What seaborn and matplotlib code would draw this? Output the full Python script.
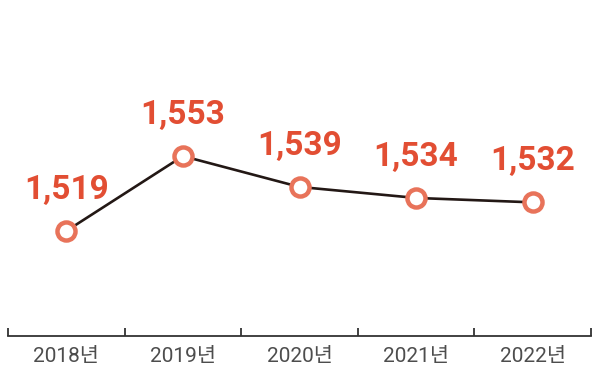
import matplotlib
matplotlib.use("Agg")
import matplotlib.pyplot as plt
import seaborn as sns
import pandas as pd

years = ["2018년", "2019년", "2020년", "2021년", "2022년"]
values = [1519, 1553, 1539, 1534, 1532]

sns.set_theme(style="white")
plt.rcParams['font.family'] = ['Roboto', 'Noto Sans CJK KR', 'DejaVu Sans']

df = pd.DataFrame({"x": range(len(years)), "v": values})

fig = plt.figure(figsize=(6, 3.7), dpi=100)
ax = fig.add_axes([8/600, 1 - 336/370, (591-8)/600, 336/370])

sns.lineplot(data=df, x="x", y="v", ax=ax, color="#231815", linewidth=1.9,
             marker="o", markersize=13, markerfacecolor="white",
             markeredgecolor="#E8735A", markeredgewidth=3.2, zorder=3)

for i, v in enumerate(values):
    ax.annotate(f"{v:,}", (i, v), xytext=(0, 18), textcoords="offset points",
                ha="center", va="bottom", fontsize=24, fontweight="bold",
                color="#E24E33", family=["Roboto", "DejaVu Sans"])

ax.set_xlim(-0.5, 4.5)
ax.set_ylim(1471.3, 1623.9)
ax.set_yticks([])
ax.set_xticks(range(len(years)))
ax.set_xticklabels(years, fontsize=15, color="#4d4d4d",
                   family=["Roboto", "Noto Sans CJK KR"])
ax.tick_params(axis="x", which="major", length=0, pad=8)
ax.set_xticks([i - 0.5 for i in range(len(years) + 1)], minor=True)
ax.tick_params(axis="x", which="minor", direction="in", length=6, width=1.3,
               color="#333333", bottom=True)
for s in ["top", "left", "right"]:
    ax.spines[s].set_visible(False)
ax.spines["bottom"].set_color("#333333")
ax.spines["bottom"].set_linewidth(1.3)
ax.set_xlabel("")
ax.set_ylabel("")
ax.patch.set_alpha(0)

fig.savefig("out.png", dpi=100)
